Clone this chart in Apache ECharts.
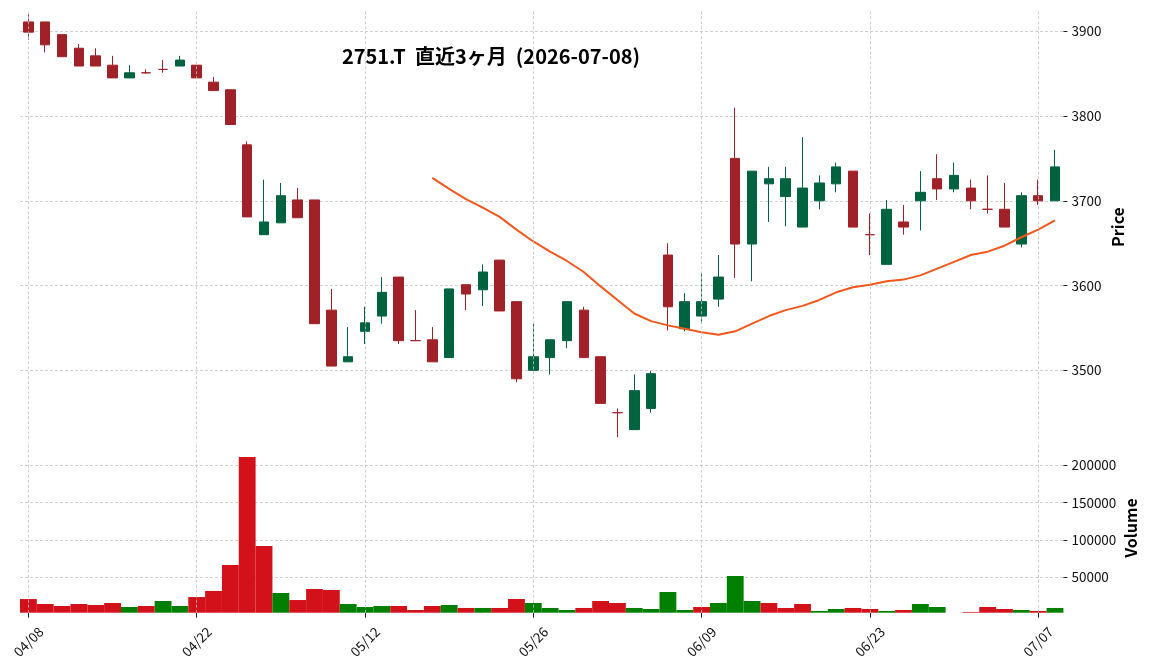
<!DOCTYPE html>
<html><head><meta charset="utf-8">
<script src="https://cdn.jsdelivr.net/npm/echarts@6/dist/echarts.min.js"></script>
<style>html,body{margin:0;padding:0;background:#fff}#c{width:1152px;height:670px}</style>
</head><body><div id="c"></div>
<script>
// ---- data ----
const dates = ['04/08','04/09','04/10','04/13','04/14','04/15','04/16','04/17','04/20','04/21',
  '04/22','04/23','04/24','04/27','04/28','04/30','05/01','05/07','05/08','05/11',
  '05/12','05/13','05/14','05/15','05/18','05/19','05/20','05/21','05/22','05/25',
  '05/26','05/27','05/28','05/29','06/01','06/02','06/03','06/04','06/05','06/08',
  '06/09','06/10','06/11','06/12','06/15','06/16','06/17','06/18','06/19','06/22',
  '06/23','06/24','06/25','06/26','06/29','06/30','07/01','07/02','07/03','07/06',
  '07/07','07/08'];
const opens = [3911,3911,3896,3880,3871,3860,3845,3851,3855,3859,
  3860,3840,3831,3766,3660,3674,3701,3701,3571,3510,
  3546,3564,3610,3535,3536,3515,3601,3595,3630,3581,
  3500,3515,3535,3571,3516,3450,3430,3455,3636,3549,
  3564,3584,3750,3649,3720,3705,3669,3700,3720,3735,
  3660,3625,3675,3700,3726,3714,3715,3690,3690,3649,
  3706,3700];
const closes = [3899,3884,3870,3859,3859,3845,3851,3851,3855,3866,
  3845,3830,3790,3681,3675,3706,3680,3555,3505,3516,
  3556,3592,3535,3535,3510,3596,3590,3616,3570,3490,
  3516,3536,3581,3515,3461,3450,3476,3496,3575,3581,
  3581,3610,3649,3735,3726,3726,3715,3721,3740,3669,
  3660,3690,3669,3710,3714,3730,3700,3690,3669,3706,
  3700,3740];
const lows = [3890,3875,3870,3859,3859,3845,3845,3850,3851,3859,
  3845,3830,3790,3681,3660,3674,3680,3555,3505,3510,
  3531,3555,3531,3535,3510,3515,3571,3576,3570,3486,
  3500,3495,3526,3515,3461,3421,3430,3450,3547,3546,
  3555,3575,3609,3605,3675,3670,3669,3690,3710,3669,
  3636,3625,3660,3665,3701,3710,3690,3685,3669,3645,
  3695,3700];
const highs = [3920,3911,3896,3885,3880,3871,3860,3855,3866,3871,
  3860,3846,3831,3770,3725,3721,3715,3701,3596,3551,
  3575,3610,3610,3571,3551,3596,3601,3625,3630,3581,
  3555,3536,3581,3575,3516,3455,3495,3499,3650,3591,
  3615,3636,3810,3735,3740,3740,3775,3730,3745,3735,
  3685,3701,3695,3735,3755,3745,3725,3730,3721,3710,
  3725,3760];
const volumes = [21000,14400,11700,14400,13100,15700,10400,11700,18400,11700,
  23700,31800,66500,210700,91800,29100,19700,34400,33100,14400,
  10400,11700,11700,6400,11700,13100,9100,9100,9100,21100,
  15700,9100,6400,9100,18400,15700,9100,7700,30400,6400,
  10400,15700,51800,18400,15700,9100,14400,5100,7700,9100,
  7700,5100,6400,14400,10400,0,3700,10400,7700,6400,
  5100,9100];
const ma25 = [null,null,null,null,null,null,null,null,null,null,
  null,null,null,null,null,null,null,null,null,null,
  null,null,null,null,3727,3714,3702,3692,3681,3666,
  3652,3640,3629,3616,3599,3583,3567,3558,3553,3549,
  3545,3542,3546,3555,3564,3571,3576,3583,3592,3598,
  3601,3605,3607,3612,3620,3628,3636,3640,3647,3657,
  3666,3677];
const xTickLabels = ['04/08','04/22','05/12','05/26','06/09','06/23','07/07'];
const priceTicks = [3500,3600,3700,3800,3900];
const volumeTicks = [50000,100000,150000,200000];
const titleText = '2751.T  直近3ヶ月  (2026-07-08)';

// ---- styling ----
const UP = '#006340', DOWN = '#a02128';
const VUP = '#007f00', VDOWN = '#d3111b';
const MA_COLOR = '#f2581b';
const GRID_COLOR = '#c4c4c4';
const FONT = "'Noto Sans CJK JP', 'Noto Sans', sans-serif";
const tickSet = new Set(xTickLabels);

const candleData = dates.map((d, i) => {
  const c = opens[i] < closes[i] ? UP : DOWN;
  return { value: [opens[i], closes[i], lows[i], highs[i]],
    itemStyle: { color: c, color0: c, borderColor: c, borderColor0: c, borderColorDoji: c } };
});
const volData = volumes.map((v, i) => {
  const up = i === 0 ? opens[0] < closes[0] : closes[i - 1] < closes[i];
  return { value: v, itemStyle: { color: up ? VUP : VDOWN } };
});
const vLines = xTickLabels.map(l => ({ xAxis: l }));
const gridLineStyle = { color: GRID_COLOR, width: 0.8, type: [3, 2] };

const chart = echarts.init(document.getElementById('c'), null, { renderer: 'canvas' });
chart.setOption({
  animation: false,
  backgroundColor: '#fff',
  textStyle: { fontFamily: FONT },
  grid: [
    { left: 20, right: 88.6, top: 11.7, height: 427.6 },
    { left: 20, right: 88.6, top: 442, height: 170.7 }
  ],
  xAxis: [
    { type: 'category', gridIndex: 0, data: dates, boundaryGap: true,
      axisLine: { show: false }, axisTick: { show: false }, axisLabel: { show: false }, splitLine: { show: false } },
    { type: 'category', gridIndex: 1, data: dates, boundaryGap: true,
      axisLine: { show: false, onZero: false },
      axisTick: { show: true, alignWithLabel: true, length: 5, interval: (i, v) => tickSet.has(v), lineStyle: { color: '#222', width: 1 } },
      axisLabel: { show: true, interval: (i, v) => tickSet.has(v), rotate: 45, align: 'center', verticalAlign: 'middle',
        margin: 29, fontSize: 13.5, color: '#111', fontFamily: FONT },
      splitLine: { show: false } }
  ],
  yAxis: [
    { type: 'value', gridIndex: 0, position: 'right', min: 3418.6, max: 3923.1, scale: true,
      axisLine: { show: false },
      axisTick: { show: true, customValues: priceTicks, length: 4, lineStyle: { color: '#222' } },
      axisLabel: { customValues: priceTicks, margin: 8, fontSize: 13.5, color: '#111', fontFamily: FONT, formatter: v => String(v) },
      splitLine: { show: true, lineStyle: gridLineStyle } },
    { type: 'value', gridIndex: 1, position: 'right', min: 2780, max: 230700,
      axisLine: { show: false },
      axisTick: { show: true, customValues: volumeTicks, length: 4, lineStyle: { color: '#222' } },
      axisLabel: { customValues: volumeTicks, margin: 8, fontSize: 13.5, color: '#111', fontFamily: FONT, formatter: v => String(v) },
      splitLine: { show: true, lineStyle: gridLineStyle } }
  ],
  graphic: [
    { type: 'text', x: 491, y: 56, style: { text: titleText, font: 'bold 20px ' + FONT, fill: '#000', align: 'center', verticalAlign: 'middle' } },
    { type: 'text', x: 1118, y: 227, rotation: Math.PI / 2, style: { text: 'Price', font: 'bold 16px ' + FONT, fill: '#000', align: 'center', verticalAlign: 'middle' } },
    { type: 'text', x: 1131, y: 528, rotation: Math.PI / 2, style: { text: 'Volume', font: 'bold 16px ' + FONT, fill: '#000', align: 'center', verticalAlign: 'middle' } }
  ],
  series: [
    { type: 'line', xAxisIndex: 0, yAxisIndex: 0, data: [], z: 0, silent: true,
      markLine: { silent: true, symbol: ['none', 'none'], label: { show: false }, lineStyle: gridLineStyle, data: vLines, animation: false } },
    { type: 'line', xAxisIndex: 1, yAxisIndex: 1, data: [], z: 0, silent: true,
      markLine: { silent: true, symbol: ['none', 'none'], label: { show: false }, lineStyle: gridLineStyle, data: vLines, animation: false } },
    { name: 'price', type: 'candlestick', xAxisIndex: 0, yAxisIndex: 0, data: candleData, barWidth: 10, z: 3,
      itemStyle: { borderWidth: 1 } },
    { name: 'MA25', type: 'line', xAxisIndex: 0, yAxisIndex: 0, data: ma25, showSymbol: false, z: 4,
      lineStyle: { color: MA_COLOR, width: 2 }, itemStyle: { color: MA_COLOR } },
    { name: 'volume', type: 'bar', xAxisIndex: 1, yAxisIndex: 1, data: volData, barWidth: '100%', barCategoryGap: 0, z: 3 }
  ]
});
</script>
</body></html>
